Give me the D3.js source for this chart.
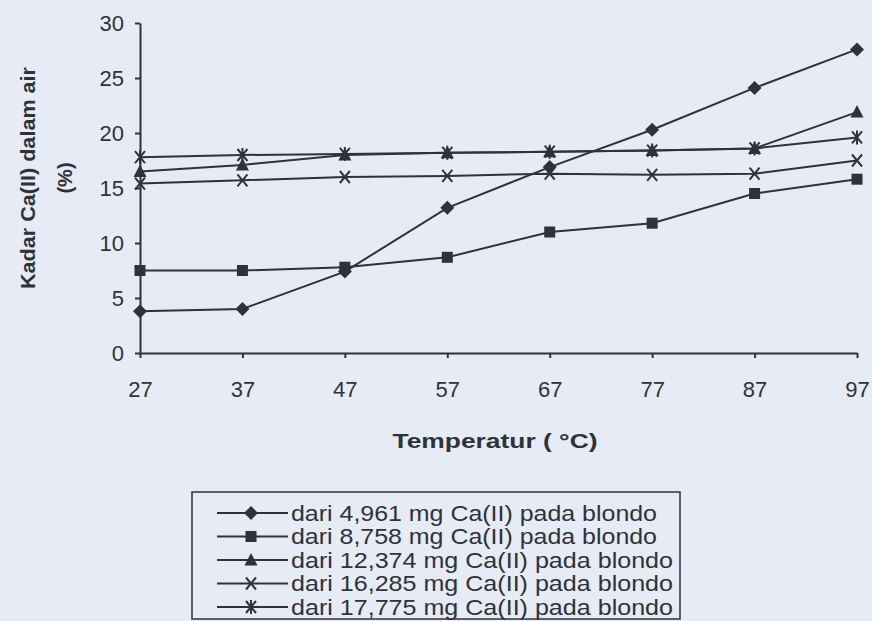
<!DOCTYPE html>
<meta charset="utf-8">
<style>
    body { margin: 0; background: #e7ebf5; }
    svg { display: block; font-family: "Liberation Sans", Arial, sans-serif; }
    .axis path, .axis line { stroke: #2e323c; stroke-width: 2px; }
    .axis text { fill: #2e323c; font-size: 22px; }
    .series { fill: none; stroke: #2e323c; stroke-width: 2px; }
</style>
<svg width="872" height="621"></svg>
<script src="https://cdn.jsdelivr.net/npm/d3@7"></script>
<script>

    var temps = [27, 37, 47, 57, 67, 77, 87, 97];
    var yTicks = [0, 5, 10, 15, 20, 25, 30];

    var s4961  = [3.8, 4.0, 7.4, 13.2, 16.9, 20.3, 24.1, 27.6];
    var s8758  = [7.5, 7.5, 7.8, 8.7, 11.0, 11.8, 14.5, 15.8];
    var s12374 = [16.5, 17.1, 18.0, 18.2, 18.3, 18.4, 18.6, 21.9];
    var s16285 = [15.4, 15.7, 16.0, 16.1, 16.3, 16.2, 16.3, 17.5];
    var s17775 = [17.8, 18.0, 18.1, 18.2, 18.3, 18.4, 18.6, 19.6];

    var labels = [
        "dari 4,961 mg Ca(II) pada blondo",
        "dari 8,758 mg Ca(II) pada blondo",
        "dari 12,374 mg Ca(II) pada blondo",
        "dari 16,285 mg Ca(II) pada blondo",
        "dari 17,775 mg Ca(II) pada blondo"
    ];
    var shapes = ["diamond", "square", "triangle", "x", "star"];
    var series = [s4961, s8758, s12374, s16285, s17775];

    var svg = d3.select("svg"),
        ink = "#2e323c";

    var x = d3.scaleLinear().domain([27, 97]).range([140, 857]);
    var y = d3.scaleLinear().domain([0, 30]).range([353, 23]);

    svg.append("g")
        .attr("class", "axis")
        .attr("transform", "translate(0,353)")
        .call(d3.axisBottom(x).tickValues(temps).tickSize(5).tickPadding(23).tickSizeOuter(0));

    svg.append("g")
        .attr("class", "axis")
        .attr("transform", "translate(140,0)")
        .call(d3.axisLeft(y).tickValues(yTicks).tickSize(5).tickPadding(11).tickSizeOuter(0));

    // marker drawing
    function marker(g, shape, cx, cy) {
        var m = g.append("g").attr("transform", "translate(" + cx + "," + cy + ")");
        if (shape == "diamond") {
            m.append("path").attr("d", "M0,-7L7,0L0,7L-7,0Z").attr("fill", ink);
        } else if (shape == "square") {
            m.append("rect").attr("x", -5.5).attr("y", -5.5).attr("width", 11).attr("height", 11).attr("fill", ink);
        } else if (shape == "triangle") {
            m.append("path").attr("d", "M0,-7L6.5,5.5L-6.5,5.5Z").attr("fill", ink);
        } else if (shape == "x") {
            m.append("path").attr("d", "M-5,-6L5,6M5,-6L-5,6").attr("stroke", ink).attr("stroke-width", 2);
        } else {
            m.append("path").attr("d", "M-5,-6L5,6M5,-6L-5,6M0,-7L0,7").attr("stroke", ink).attr("stroke-width", 2);
        }
    }

    var line = d3.line()
        .x(function(d, i) { return x(temps[i]); })
        .y(function(d) { return y(d); });

    series.forEach(function(vals, k) {
        svg.append("path").attr("class", "series").attr("d", line(vals));
    });
    series.forEach(function(vals, k) {
        var g = svg.append("g");
        vals.forEach(function(v, i) { marker(g, shapes[k], x(temps[i]), y(v)); });
    });

    // axis titles
    var yt = svg.append("text")
        .attr("transform", "translate(28,178) rotate(-90)")
        .attr("text-anchor", "middle")
        .attr("font-weight", "bold")
        .attr("font-size", 20)
        .attr("fill", ink);
    yt.append("tspan").attr("x", 0).attr("dy", "0.35em")
        .attr("textLength", 222).attr("lengthAdjust", "spacingAndGlyphs")
        .text("Kadar Ca(II) dalam air");
    yt.append("tspan").attr("x", 0).attr("dy", "1.85em").text("(%)");

    svg.append("text")
        .attr("x", 495).attr("y", 448)
        .attr("text-anchor", "middle")
        .attr("font-weight", "bold")
        .attr("font-size", 21)
        .attr("textLength", 205)
        .attr("lengthAdjust", "spacingAndGlyphs")
        .attr("fill", ink)
        .text("Temperatur ( °C)");

    // legend
    var lg = svg.append("g");
    lg.append("rect")
        .attr("x", 192).attr("y", 492)
        .attr("width", 488).attr("height", 127)
        .attr("fill", "none").attr("stroke", ink).attr("stroke-width", 1.5);

    labels.forEach(function(lab, k) {
        var ly = 513 + k * 23.5;
        lg.append("line")
            .attr("x1", 217).attr("x2", 288).attr("y1", ly).attr("y2", ly)
            .attr("stroke", ink).attr("stroke-width", 2);
        marker(lg, shapes[k], 251, ly);
        lg.append("text")
            .attr("x", 291).attr("y", ly).attr("dy", "0.35em")
            .attr("font-size", 22)
            .attr("textLength", k < 2 ? 366 : 382)
            .attr("lengthAdjust", "spacingAndGlyphs")
            .attr("fill", ink)
            .text(lab);
    });

</script>
